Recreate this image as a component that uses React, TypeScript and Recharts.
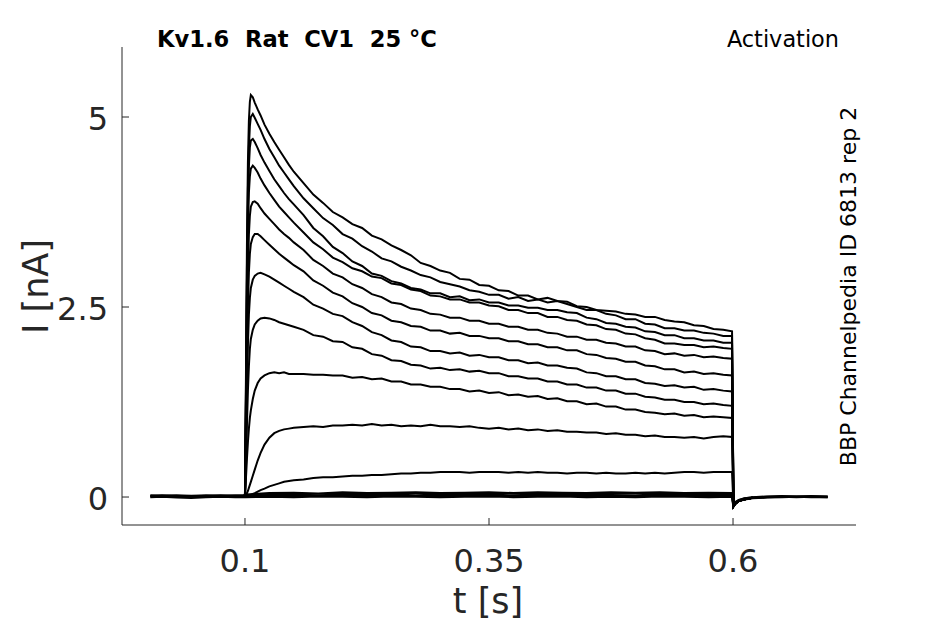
import { LineChart, Line, XAxis, YAxis } from "recharts";

// Kv1.6 activation family: current traces sampled on a shared time grid.
// Each TRACE_n lists the rise (RISE_T), the pulse (PULSE_T) and the last
// point before repolarisation (END_T); the tail after the step is shared.

const RISE_T = [0.0995, 0.1, 0.101, 0.102, 0.103, 0.104, 0.105, 0.106, 0.108, 0.11, 0.113, 0.116, 0.12, 0.125, 0.13, 0.135, 0.14, 0.145, 0.15];
const PULSE_T = [
  0.16, 0.17, 0.18, 0.19, 0.2, 0.21, 0.22, 0.23, 0.24, 0.25, 0.26, 0.27, 0.28, 0.29, 0.3,
  0.31, 0.32, 0.33, 0.34, 0.35, 0.36, 0.37, 0.38, 0.39, 0.4, 0.41, 0.42, 0.43, 0.44, 0.45,
  0.46, 0.47, 0.48, 0.49, 0.5, 0.51, 0.52, 0.53, 0.54, 0.55, 0.56, 0.57, 0.58, 0.59,
];
const END_T = [0.599];
const TAIL_T = [0.6005, 0.602, 0.606, 0.612, 0.62];
const TAIL_I = [-0.12, -0.09, -0.05, -0.03, -0.01];

const TRACE_1 = [
  0, 0.05, 1.6, 3.3, 4.4, 4.95, 5.2, 5.29, 5.26, 5.19, 5.1, 5.02, 4.9, 4.78, 4.67, 4.57, 4.47, 4.37, 4.28,
  4.13, 3.98, 3.87, 3.75, 3.68, 3.59, 3.54, 3.44, 3.39, 3.31, 3.25, 3.18, 3.08, 3.04, 2.98, 2.95, 2.87, 2.86, 2.79, 2.78,
  2.72, 2.71, 2.65, 2.65, 2.6, 2.62, 2.58, 2.57, 2.51, 2.5, 2.46, 2.45, 2.44, 2.41, 2.4, 2.37, 2.37, 2.33, 2.31, 2.3,
  2.26, 2.25, 2.21, 2.2,
  2.18,
];
const TRACE_2 = [
  0, 0.05, 1.4, 3.0, 4.05, 4.6, 4.88, 5.0, 5.04, 4.99, 4.91, 4.83, 4.71, 4.58, 4.47, 4.36, 4.27, 4.18, 4.09,
  3.93, 3.8, 3.67, 3.58, 3.46, 3.4, 3.3, 3.23, 3.14, 3.1, 3.03, 2.98, 2.92, 2.89, 2.83, 2.8, 2.77, 2.72, 2.7, 2.66,
  2.66, 2.61, 2.63, 2.58, 2.6, 2.56, 2.58, 2.54, 2.5, 2.46, 2.46, 2.41, 2.39, 2.34, 2.34, 2.28, 2.27, 2.22, 2.22, 2.19,
  2.19, 2.16, 2.15, 2.12,
  2.12,
];
const TRACE_3 = [
  0, 0.04, 1.3, 2.8, 3.8, 4.35, 4.6, 4.69, 4.71, 4.67, 4.59, 4.5, 4.4, 4.29, 4.18, 4.09, 4.0, 3.92, 3.85,
  3.71, 3.54, 3.43, 3.29, 3.21, 3.1, 3.04, 2.94, 2.91, 2.84, 2.81, 2.75, 2.73, 2.68, 2.68, 2.63, 2.64, 2.59, 2.6, 2.56,
  2.56, 2.52, 2.52, 2.49, 2.49, 2.46, 2.46, 2.43, 2.42, 2.36, 2.34, 2.29, 2.28, 2.24, 2.23, 2.18, 2.17, 2.13, 2.13, 2.09,
  2.09, 2.06, 2.06, 2.03,
  2.03,
];
const TRACE_4 = [
  0, 0.04, 1.2, 2.6, 3.5, 4.0, 4.22, 4.32, 4.36, 4.33, 4.27, 4.19, 4.1, 4.0, 3.91, 3.82, 3.75, 3.68, 3.61,
  3.48, 3.35, 3.26, 3.15, 3.09, 3.01, 2.97, 2.9, 2.88, 2.81, 2.79, 2.73, 2.71, 2.65, 2.64, 2.6, 2.6, 2.56, 2.56, 2.52,
  2.51, 2.46, 2.46, 2.42, 2.42, 2.37, 2.37, 2.33, 2.32, 2.27, 2.26, 2.21, 2.2, 2.15, 2.14, 2.09, 2.07, 2.02, 2.02, 2.0,
  2.0, 1.97, 1.98, 1.96,
  1.95,
];
const TRACE_5 = [
  0, 0.03, 1.0, 2.2, 3.0, 3.45, 3.7, 3.82, 3.88, 3.89, 3.86, 3.8, 3.73, 3.66, 3.59, 3.52, 3.46, 3.41, 3.35,
  3.25, 3.12, 3.04, 2.94, 2.89, 2.8, 2.75, 2.67, 2.63, 2.56, 2.54, 2.48, 2.46, 2.41, 2.4, 2.36, 2.36, 2.32, 2.32, 2.28,
  2.28, 2.24, 2.24, 2.2, 2.2, 2.16, 2.15, 2.11, 2.11, 2.07, 2.07, 2.03, 2.02, 1.98, 1.98, 1.93, 1.92, 1.88, 1.89, 1.86,
  1.87, 1.84, 1.85, 1.83,
  1.82,
];
const TRACE_6 = [
  0, 0.03, 0.8, 1.8, 2.5, 2.95, 3.2, 3.33, 3.42, 3.46, 3.46, 3.43, 3.38, 3.32, 3.26, 3.2, 3.15, 3.1, 3.05,
  2.97, 2.85, 2.78, 2.69, 2.64, 2.55, 2.5, 2.42, 2.39, 2.32, 2.3, 2.25, 2.24, 2.19, 2.19, 2.15, 2.16, 2.12, 2.12, 2.09,
  2.09, 2.05, 2.05, 2.01, 2.01, 1.97, 1.97, 1.93, 1.93, 1.88, 1.87, 1.83, 1.82, 1.78, 1.78, 1.73, 1.72, 1.68, 1.68, 1.64,
  1.65, 1.62, 1.63, 1.61,
  1.6,
];
const TRACE_7 = [
  0, 0.02, 0.6, 1.4, 2.0, 2.4, 2.62, 2.75, 2.86, 2.91, 2.94, 2.95, 2.93, 2.9, 2.86, 2.82, 2.78, 2.74, 2.7,
  2.63, 2.53, 2.48, 2.41, 2.38, 2.3, 2.25, 2.17, 2.13, 2.06, 2.04, 1.98, 1.97, 1.92, 1.92, 1.89, 1.9, 1.86, 1.87, 1.84,
  1.84, 1.8, 1.8, 1.76, 1.77, 1.73, 1.73, 1.7, 1.69, 1.64, 1.63, 1.59, 1.59, 1.55, 1.55, 1.5, 1.49, 1.46, 1.47, 1.44,
  1.45, 1.41, 1.42, 1.4,
  1.39,
];
const TRACE_8 = [
  0, 0.02, 0.4, 0.95, 1.4, 1.72, 1.95, 2.08, 2.2, 2.27, 2.32, 2.35, 2.36, 2.35, 2.33, 2.3, 2.28, 2.26, 2.24,
  2.2, 2.13, 2.11, 2.05, 2.04, 1.97, 1.95, 1.88, 1.86, 1.8, 1.79, 1.74, 1.73, 1.69, 1.7, 1.67, 1.68, 1.65, 1.66, 1.63,
  1.63, 1.59, 1.59, 1.56, 1.56, 1.52, 1.52, 1.48, 1.48, 1.44, 1.44, 1.4, 1.4, 1.36, 1.36, 1.32, 1.31, 1.28, 1.28, 1.25,
  1.25, 1.22, 1.23, 1.21,
  1.2,
];
const TRACE_9 = [
  0, 0.02, 0.25, 0.5, 0.72, 0.9, 1.04, 1.14, 1.29, 1.4, 1.5, 1.56, 1.6, 1.63, 1.64, 1.63, 1.64, 1.62, 1.62,
  1.62, 1.61, 1.61, 1.6, 1.6, 1.57, 1.58, 1.55, 1.56, 1.52, 1.52, 1.48, 1.48, 1.45, 1.45, 1.42, 1.42, 1.39, 1.4, 1.37,
  1.38, 1.34, 1.35, 1.32, 1.33, 1.29, 1.3, 1.26, 1.26, 1.22, 1.23, 1.19, 1.19, 1.15, 1.15, 1.12, 1.11, 1.09, 1.1, 1.07,
  1.08, 1.05, 1.06, 1.05,
  1.04,
];
const TRACE_10 = [
  0, 0, 0.02, 0.05, 0.08, 0.12, 0.16, 0.2, 0.28, 0.36, 0.48, 0.58, 0.69, 0.78, 0.84, 0.87, 0.89, 0.9, 0.91,
  0.92, 0.93, 0.92, 0.94, 0.94, 0.95, 0.94, 0.96, 0.94, 0.95, 0.93, 0.94, 0.93, 0.95, 0.93, 0.93, 0.92, 0.93, 0.91, 0.9,
  0.91, 0.89, 0.9, 0.88, 0.89, 0.87, 0.88, 0.86, 0.86, 0.85, 0.85, 0.83, 0.84, 0.82, 0.82, 0.8, 0.81, 0.79, 0.79, 0.78,
  0.79, 0.77, 0.79, 0.8,
  0.79,
];
const TRACE_11 = [
  0, 0, 0.005, 0.01, 0.015, 0.02, 0.025, 0.03, 0.04, 0.05, 0.07, 0.09, 0.11, 0.14, 0.16, 0.18, 0.2, 0.21, 0.22,
  0.23, 0.25, 0.26, 0.26, 0.27, 0.28, 0.28, 0.29, 0.29, 0.3, 0.31, 0.31, 0.32, 0.32, 0.33, 0.33, 0.33, 0.32, 0.33, 0.33,
  0.33, 0.32, 0.33, 0.32, 0.33, 0.32, 0.32, 0.31, 0.32, 0.32, 0.31, 0.32, 0.31, 0.31, 0.32, 0.31, 0.32, 0.31, 0.32, 0.33,
  0.33, 0.32, 0.33, 0.33,
  0.33,
];

// sub-threshold sweeps, drawn over the whole record
const BASE_T = [
  0.003, 0.015, 0.03, 0.045, 0.06, 0.075, 0.09, 0.0995, 0.1005,
  0.125, 0.15, 0.175, 0.2, 0.225, 0.25, 0.275, 0.3, 0.325, 0.35, 0.375, 0.4, 0.425, 0.45, 0.475, 0.5, 0.525, 0.55, 0.575,
  0.599, 0.6005, 0.602, 0.606, 0.612, 0.62, 0.635, 0.65, 0.665, 0.68, 0.697,
];
const BASE_1 = [
  0, 0.005, -0.005, -0.01, 0, 0.005, 0, 0, 0,
  0.005, 0, 0.01, 0.005, 0, 0.01, 0.005, 0, 0.005, 0.01, 0, 0.005, 0.01, 0, 0.005, 0, 0.01, 0.005, 0,
  0.005, -0.12, -0.09, -0.05, -0.03, -0.015, -0.005, 0, 0.005, 0, 0,
];
const BASE_2 = [
  0.02, 0.015, 0.02, 0.01, 0.02, 0.015, 0.02, 0.02, 0.02,
  0.025, 0.03, 0.02, 0.03, 0.025, 0.03, 0.02, 0.03, 0.025, 0.03, 0.02, 0.03, 0.025, 0.03, 0.025, 0.02, 0.03, 0.025, 0.03,
  0.03, -0.1, -0.07, -0.04, -0.02, -0.005, 0.005, 0.01, 0.005, 0.01, 0.005,
];
const BASE_3 = [
  0.01, 0.02, 0.01, 0.015, 0.01, 0.02, 0.01, 0.01, 0.03,
  0.05, 0.055, 0.045, 0.06, 0.05, 0.055, 0.06, 0.05, 0.055, 0.06, 0.05, 0.06, 0.055, 0.05, 0.06, 0.055, 0.06, 0.05, 0.055,
  0.05, -0.11, -0.08, -0.045, -0.02, -0.01, 0, 0.005, 0, 0.005, 0,
];

const X_TICKS = [0.1, 0.35, 0.6];
const Y_TICKS = [0, 2.5, 5];

const ACTIVE_T = [...RISE_T, ...PULSE_T, ...END_T, ...TAIL_T];
const ACTIVE = [TRACE_1, TRACE_2, TRACE_3, TRACE_4, TRACE_5, TRACE_6, TRACE_7, TRACE_8, TRACE_9, TRACE_10, TRACE_11];
const BASE = [BASE_1, BASE_2, BASE_3];

const activeRows = (vals: number[]) =>
  ACTIVE_T.map((t, i) => ({ t, v: i < vals.length ? vals[i] : TAIL_I[i - vals.length] }));
const baseRows = (vals: number[]) => BASE_T.map((t, i) => ({ t, v: vals[i] }));

const FONT = "'DejaVu Sans', sans-serif";
const AXIS = "#262626";

function XTick({ x, y, payload }: any) {
  return (
    <g>
      <line x1={x} y1={y} x2={x} y2={y - 7} stroke={AXIS} strokeWidth={1} />
      <text x={x} y={y + 47} textAnchor="middle" fontFamily={FONT} fontSize={32} fill={AXIS}>
        {String(payload.value)}
      </text>
    </g>
  );
}

function YTick({ x, y, payload }: any) {
  return (
    <g>
      <line x1={x} y1={y} x2={x + 7} y2={y} stroke={AXIS} strokeWidth={1} />
      <text x={x - 14} y={y + 12.5} textAnchor="end" fontFamily={FONT} fontSize={32} fill={AXIS}>
        {String(payload.value)}
      </text>
    </g>
  );
}

export default function App() {
  return (
    <div style={{ position: "relative", width: 945, height: 624, background: "#fff" }}>
      <style>{"body{margin:0}"}</style>
      <LineChart width={945} height={624} margin={{ top: 47, right: 89, bottom: 59, left: 62 }}>
        <XAxis
          type="number"
          dataKey="t"
          domain={[-0.026, 0.726]}
          allowDataOverflow
          ticks={X_TICKS}
          interval={0}
          height={40}
          tickSize={0}
          tickMargin={0}
          tickLine={false}
          axisLine={{ stroke: AXIS, strokeWidth: 1 }}
          tick={<XTick />}
        />
        <YAxis
          type="number"
          domain={[-0.368, 5.921]}
          allowDataOverflow
          ticks={Y_TICKS}
          interval={0}
          width={60}
          tickSize={0}
          tickMargin={0}
          tickLine={false}
          axisLine={{ stroke: AXIS, strokeWidth: 1 }}
          tick={<YTick />}
        />
        {BASE.map((b, i) => (
          <Line
            key={`b${i}`}
            data={baseRows(b)}
            dataKey="v"
            type="linear"
            stroke="#000"
            strokeWidth={2.4}
            dot={false}
            activeDot={false}
            isAnimationActive={false}
          />
        ))}
        {ACTIVE.map((tr, i) => (
          <Line
            key={`a${i}`}
            data={activeRows(tr)}
            dataKey="v"
            type="linear"
            stroke="#000"
            strokeWidth={2}
            dot={false}
            activeDot={false}
            isAnimationActive={false}
          />
        ))}
      </LineChart>
      <svg
        width={945}
        height={624}
        style={{ position: "absolute", left: 0, top: 0, pointerEvents: "none" }}
      >
        <text x={157} y={46.5} fontFamily={FONT} fontWeight="bold" fontSize={22.6} fill="#000" style={{ whiteSpace: "pre" }}>
          {"Kv1.6\u00a0\u00a0Rat\u00a0\u00a0CV1\u00a0\u00a025\u00a0°C"}
        </text>
        <text x={839} y={46.5} textAnchor="end" fontFamily={FONT} fontSize={22.4} fill="#000">
          Activation
        </text>
        <text
          transform="translate(856,286.5) rotate(-90)"
          textAnchor="middle"
          fontFamily={FONT}
          fontSize={22}
          fill="#000"
        >
          BBP Channelpedia ID 6813 rep 2
        </text>
        <text transform="translate(48,286.5) rotate(-90)" textAnchor="middle" fontFamily={FONT} fontSize={35} fill={AXIS}>
          I [nA]
        </text>
        <text x={488} y={613} textAnchor="middle" fontFamily={FONT} fontSize={35} fill={AXIS}>
          t [s]
        </text>
      </svg>
    </div>
  );
}
